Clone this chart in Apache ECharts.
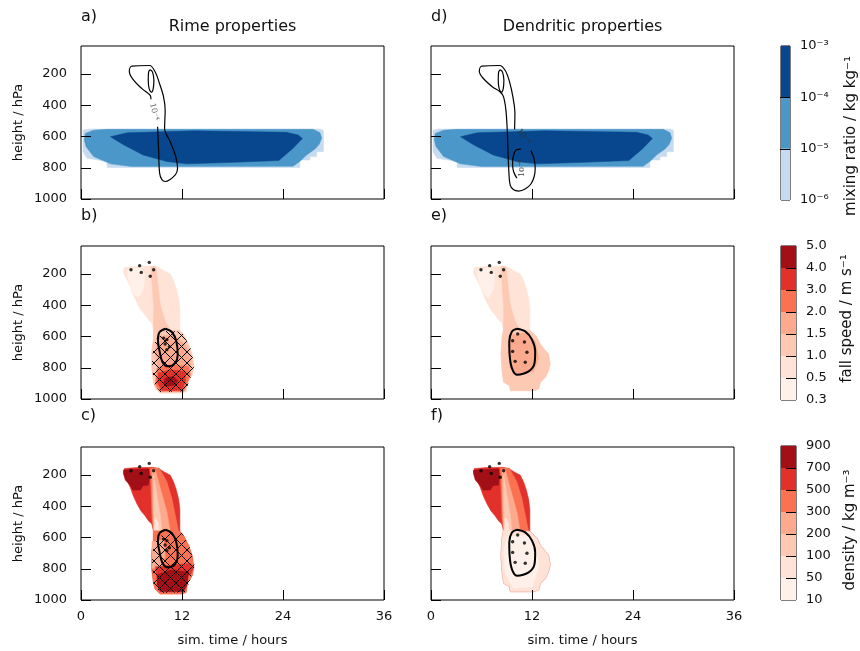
<!DOCTYPE html>
<html><head><meta charset="utf-8">
<script src="https://cdn.jsdelivr.net/npm/echarts@6/dist/echarts.min.js"></script>
<style>html,body{margin:0;padding:0;background:#fff}#c{width:860px;height:651px}</style>
</head><body><div id="c"></div>
<script>
// ---------------- DATA ----------------
const timeTicks = [0, 12, 24, 36];
const pressureTicks = [200, 400, 600, 800, 1000];
const mixLabels = ['10⁻⁶', '10⁻⁵', '10⁻⁴', '10⁻³'];
const fallLabels = ['0.3', '0.5', '1.0', '1.5', '2.0', '3.0', '4.0', '5.0'];
const densLabels = ['10', '50', '100', '200', '300', '500', '700', '900'];
const blueColors = ['#c6dbef', '#4b97c9', '#08478d'];
const redColors = ['#fff0e9', '#fee3d6', '#fdc9b3', '#fcaa8e', '#fb7253', '#e2312a', '#a30f17'];

// filled contour regions, [time h, pressure hPa]
const blueLight = [[0.24,559],[1.0,552],[28.4,552],[28.8,559],[28.8,697],[28.0,697],[28.0,728],[27.2,728],[27.2,750],[26.0,750],[26.0,798],[3.1,798],[3.1,760],[0.7,739],[0.24,697]];
const blueMid = [[0.5,580],[1.5,559],[3,554],[27.6,554],[28.4,575],[28.6,610],[28.3,650],[27.8,680],[26.8,718],[26.0,760],[25.2,790],[6,792],[3.5,775],[1.5,728],[0.6,665],[0.4,622]];
const blueDark = [[3.5,601],[5.5,576],[13.4,563],[24.4,573],[25.8,590],[26.3,612],[25.2,675],[23.5,754],[17.3,767],[12.6,775],[10.2,760],[7.4,718],[5.1,654]];

const plumeBC = [[5.05,178],[5.15,158],[6.5,152],[8.6,150],[9.3,160],[9.9,180],[10.6,200],[11.0,242],[11.3,289],[11.6,353],[11.75,417],[11.75,503],[11.75,560],
  [12.2,588],[12.8,652],[13.2,716],[13.4,791],[13.2,844],[12.6,897],[12.5,951],[12.0,961],[9.4,961],[8.8,929],[8.6,887],[8.4,801],[8.4,695],[8.6,620],[8.6,556],
  [8.4,513],[8.0,492],[7.6,460],[7.1,428],[6.65,385],[6.2,332],[5.85,279],[5.4,230],[5.1,200]];
const plumeEF = [[5.05,178],[5.15,158],[6.5,152],[8.6,150],[9.3,160],[9.9,180],[10.6,200],[11.0,242],[11.3,289],[11.6,353],[11.75,417],[11.75,503],[11.75,560],
  [12.6,605],[13.0,648],[13.6,690],[13.97,712],[14.17,776],[13.97,819],[13.6,861],[13.0,893],[12.8,936],[12.2,947],[9.42,947],[9.34,915],[8.63,893],[8.43,819],[8.31,712],[8.43,605],[8.6,556],
  [8.4,513],[8.0,492],[7.6,460],[7.1,428],[6.65,385],[6.2,332],[5.85,279],[5.4,230],[5.1,200]];
const lowerBlobBC = [[8.6,556],[11.75,560],[12.2,588],[12.8,652],[13.2,716],[13.4,791],[13.2,844],[12.6,897],[12.5,951],[12.0,961],[9.4,961],[8.8,929],[8.6,887],[8.4,801],[8.4,695],[8.6,620]];
const lowerBlobEF = [[8.6,556],[11.75,560],[12.6,605],[13.0,648],[13.6,690],[13.97,712],[14.17,776],[13.97,819],[13.6,861],[13.0,893],[12.8,936],[12.2,947],[9.42,947],[9.34,915],[8.63,893],[8.43,819],[8.31,712],[8.43,605]];

const topLeftWhite = [[5.5,172],[7.0,158],[7.6,204],[7.45,289],[6.85,353],[6.3,332],[5.9,279],[5.5,210]];
const bandB = [[8.3,152],[8.9,152],[9.1,247],[9.42,396],[10.0,503],[10.6,556],[8.63,562],[8.63,417],[8.43,247]];
const lowerC4B = [[9.22,599],[11.0,588],[12.4,652],[13.0,737],[13.0,812],[9.42,833],[9.03,780],[8.83,695]];
const lowerC5B = [[9.03,801],[10.6,780],[12.8,791],[13.0,844],[12.6,908],[12.2,951],[9.42,951],[8.83,908]];
const lowerC6B = [[9.22,833],[10.6,812],[12.4,823],[12.4,887],[12.0,946],[9.62,946],[9.1,897]];
const lowerC7B = [[9.82,897],[10.0,865],[11.0,855],[11.5,882],[11.2,912],[10.2,919]];
const lowerC4E = [[9.41,588],[11.2,578],[12.4,631],[12.8,738],[12.2,823],[10.2,844],[9.41,802],[9.2,695]];

const topLeftDark = [[5.06,168],[8.03,160],[8.15,189],[8.03,264],[7.36,268],[7.05,296],[6.17,296],[5.78,260],[5.26,232],[5.06,189]];
const bandC = [[8.2,155],[9.3,155],[10.2,243],[10.8,349],[11.2,456],[11.6,563],[8.63,563],[8.43,477],[8.31,285]];
const bandC4 = [[8.43,168],[8.83,168],[9.42,285],[10.2,435],[10.6,563],[8.63,573],[8.51,392]];
const bandC3 = [[8.63,200],[8.95,307],[9.42,456],[9.62,563],[8.71,563],[8.63,392]];
const bandC2 = [[8.8,470],[9.15,500],[9.3,560],[8.75,560]];
const lowerC4C = [[8.43,627],[9.82,616],[10.0,712],[9.62,797],[8.43,797]];
const lowerC6C = [[8.83,787],[13.0,765],[13.4,787],[13.0,840],[9.03,850]];
const lowerC7C = [[9.03,840],[10.6,808],[12.8,819],[12.6,904],[12.2,947],[9.42,947],[9.03,904]];
const lowerC1F = [[9.03,595],[11.4,584],[12.6,690],[12.8,797],[12.0,915],[9.82,925],[8.83,840],[8.63,690]];

const hatchBC = [[9.03,609],[10.2,562],[12.0,571],[13.0,673],[13.5,780],[13.0,865],[12.4,951],[9.42,955],[8.63,897],[8.43,759],[8.63,652]];

// contour lines
const contourA = [[9.10,537],[9.22,686],[9.34,834],[9.61,876],[10.0,888],[11.2,845],[11.47,803],[11.2,718],[10.6,633],[9.93,548],[10.0,431],[9.81,346],[9.34,262],[8.82,187],[8.15,145],[6.05,149],[5.74,181],[6.13,230],[7.24,293],[8.23,336],[8.31,361]];
const contourInner = [[8.23,172],[8.5,187],[8.66,240],[8.58,293],[8.39,315],[8.1,293],[7.99,240],[8.03,187],[8.23,172]];
const contourD = [[11.87,690],[12.26,745],[12.38,803],[12.26,856],[11.87,904],[11.19,936],[10.4,949],[9.81,941],[9.41,911],[9.26,834],[9.14,686],[9.06,559],[8.9,431],[8.62,346],[8.23,315],[7.24,279],[6.17,225],[5.74,181],[6.05,149],[8.15,145],[8.82,177],[9.34,251],[9.73,346],[9.97,453],[9.93,554]];
const contourDJ = [[10.68,680],[10.13,686],[9.81,718],[9.69,771],[9.81,824],[10.2,866]];
const ellipseRime = [[10.05,550],[10.8,571],[11.33,631],[11.49,716],[11.2,769],[10.4,791],[9.74,769],[9.34,695],[9.14,620],[9.34,571],[10.05,550]];
const ellipseDend = [[10.2,550],[11.2,567],[12.0,620],[12.38,695],[12.3,770],[11.6,823],[10.2,844],[9.61,802],[9.34,716],[9.3,631],[9.61,567],[10.2,550]];

const labelsA = [[8.7,442,'10⁻⁴']];
const labelsD = [[11.0,601,'10⁻⁶'],[10.8,803,'10⁻⁶']];
const labelRotA = [-76];
const labelRotD = [-55, 90];

// stippled points
const dotsTop = [[5.94,172],[6.97,146],[8.11,125],[8.63,172],[7.16,189],[8.23,214]];
const dotsRime = [[9.81,610],[10.2,620],[10.0,648],[10.5,665],[10.2,684]];
const dotsDend = [[10.3,584],[9.7,627],[11.1,635],[9.7,695],[11.4,701],[10.0,759],[11.2,765]];

// layer lists: [region, colour level]
const layersA = [[blueLight,0],[blueMid,1],[blueDark,2]];
const layersB = [[plumeBC,1],[topLeftWhite,0],[bandB,2],[lowerBlobBC,2],[lowerC4B,3],[lowerC5B,4],[lowerC6B,5],[lowerC7B,6]];
const layersC = [[plumeBC,5],[topLeftDark,6],[bandC,4],[bandC4,3],[bandC3,2],[bandC2,1],[lowerBlobBC,4],[lowerC4C,3],[lowerC6C,5],[lowerC7C,6]];
const layersE = [[plumeEF,1],[topLeftWhite,0],[bandB,2],[lowerBlobEF,2],[lowerC4E,3]];
const layersF = [[plumeEF,5],[topLeftDark,6],[bandC,4],[bandC4,3],[bandC3,2],[bandC2,1],[lowerBlobEF,1],[lowerC1F,0]];

// ---------------- CHART ----------------
const F = 'DejaVu Sans';
const TXT = '#111';
const colsX = [81, 431], rowsY = [46, 246, 447], PW = 303, PH = 153;
const grids = [], xAxes = [], yAxes = [], series = [];

const hatchImg = (() => {
  const s = 11, c = document.createElement('canvas'); c.width = s; c.height = s;
  const g = c.getContext('2d'); g.strokeStyle = '#000'; g.lineWidth = 1;
  g.beginPath(); g.moveTo(-1,-1); g.lineTo(s+1,s+1); g.moveTo(s+1,-1); g.lineTo(-1,s+1); g.stroke();
  return c;
})();

function addPanel(col, row, showX, showY) {
  const gi = grids.length;
  grids.push({left: colsX[col], top: rowsY[row], width: PW, height: PH, show: true,
    borderColor: '#000', borderWidth: 1, backgroundColor: 'transparent', containLabel: false});
  xAxes.push({gridIndex: gi, type: 'value', min: timeTicks[0], max: timeTicks[timeTicks.length-1], interval: 12, zlevel: 1, z: 10,
    axisLine: {show: false}, splitLine: {show: false},
    axisTick: {show: true, inside: true, length: 10, lineStyle: {color: '#000', width: 1}},
    axisLabel: {show: showX, margin: 10, fontFamily: F, fontSize: 13, color: TXT, showMinLabel: true, showMaxLabel: true,
      formatter: v => String(v)},
    name: showX ? 'sim. time / hours' : '', nameLocation: 'middle', nameGap: 34,
    nameTextStyle: {fontFamily: F, fontSize: 13, color: TXT}});
  yAxes.push({gridIndex: gi, type: 'value', inverse: true, min: 20, max: 1000, zlevel: 1, z: 10,
    axisLine: {show: false}, splitLine: {show: false},
    axisTick: {show: true, inside: true, length: 10, customValues: pressureTicks, lineStyle: {color: '#000', width: 1}},
    axisLabel: {show: showY, margin: 14, customValues: pressureTicks, fontFamily: F, fontSize: 13, color: TXT,
      formatter: v => String(v)},
    name: showY ? 'height / hPa' : '', nameLocation: 'middle', nameGap: 56, nameRotate: 90,
    nameTextStyle: {fontFamily: F, fontSize: 13, color: TXT}});
  return gi;
}

function fillSeries(gi, layers, colors) {
  series.push({type: 'custom', xAxisIndex: gi, yAxisIndex: gi, clip: true, silent: true, z: 2,
    data: layers.map((l, i) => [l[0][0][0], l[0][0][1], i]),
    renderItem: (params, api) => {
      const L = layers[params.dataIndex];
      return {type: 'polygon', shape: {points: L[0].map(p => api.coord(p))},
        style: {fill: colors[L[1]], stroke: colors[L[1]], lineWidth: 0.5}};
    }});
}
function hatchSeries(gi, poly) {
  series.push({type: 'custom', xAxisIndex: gi, yAxisIndex: gi, clip: true, silent: true, z: 3,
    data: [[poly[0][0], poly[0][1]]],
    renderItem: (params, api) => ({type: 'polygon', shape: {points: poly.map(p => api.coord(p))},
      style: {fill: {image: hatchImg, repeat: 'repeat'}, stroke: 'none'}})});
}
function lineSeries(gi, pts, w) {
  series.push({type: 'line', xAxisIndex: gi, yAxisIndex: gi, data: pts, showSymbol: false, silent: true,
    smooth: 0.35, z: 4, lineStyle: {color: '#000', width: w}, clip: true});
}
function dotSeries(gi, pts) {
  series.push({type: 'scatter', xAxisIndex: gi, yAxisIndex: gi, data: pts, symbolSize: 3.4, silent: true, z: 5,
    itemStyle: {color: '#000'}});
}
function labelSeries(gi, labs, rots, color) {
  series.push({type: 'custom', xAxisIndex: gi, yAxisIndex: gi, silent: true, z: 6,
    data: labs.map(l => [l[0], l[1]]),
    renderItem: (params, api) => {
      const L = labs[params.dataIndex], c = api.coord([L[0], L[1]]);
      return {type: 'text', x: c[0], y: c[1], rotation: rots[params.dataIndex] * Math.PI / 180,
        style: {text: L[2], fill: color, font: '8px "DejaVu Serif"', align: 'center', verticalAlign: 'middle'}};
    }});
}

// panels a,b,c (left column), d,e,f (right column)
const gA = addPanel(0, 0, false, true);
const gB = addPanel(0, 1, false, true);
const gC = addPanel(0, 2, true, true);
const gD = addPanel(1, 0, false, false);
const gE = addPanel(1, 1, false, false);
const gF = addPanel(1, 2, true, false);

fillSeries(gA, layersA, blueColors);
lineSeries(gA, contourA, 1.2); lineSeries(gA, contourInner, 1.2);
labelSeries(gA, labelsA, labelRotA, '#666');

fillSeries(gD, layersA, blueColors);
lineSeries(gD, contourD, 1.2); lineSeries(gD, contourInner, 1.2); lineSeries(gD, contourDJ, 1.2);
labelSeries(gD, labelsD, labelRotD, '#333');

fillSeries(gB, layersB, redColors); hatchSeries(gB, hatchBC);
lineSeries(gB, ellipseRime, 2); dotSeries(gB, dotsTop); dotSeries(gB, dotsRime);
fillSeries(gC, layersC, redColors); hatchSeries(gC, hatchBC);
lineSeries(gC, ellipseRime, 2); dotSeries(gC, dotsTop); dotSeries(gC, dotsRime);
fillSeries(gE, layersE, redColors);
lineSeries(gE, ellipseDend, 2); dotSeries(gE, dotsTop); dotSeries(gE, dotsDend);
fillSeries(gF, layersF, redColors);
lineSeries(gF, ellipseDend, 2); dotSeries(gF, dotsTop); dotSeries(gF, dotsDend);

// colorbars
function addColorbar(top, colors, labels, name, gap, pad) {
  const gi = grids.length, n = colors.length;
  grids.push({left: 781, top: top, width: 15, height: 154, show: true, borderColor: '#000', borderWidth: 1, backgroundColor: 'transparent'});
  xAxes.push({gridIndex: gi, type: 'value', min: 0, max: 1, show: false});
  yAxes.push({gridIndex: gi, type: 'value', min: 0, max: n, interval: 1, position: 'right', zlevel: 1, z: 10,
    axisLine: {show: false}, splitLine: {show: false},
    axisTick: {show: false},
    axisLabel: {margin: 10, formatter: v => labels[Math.round(v)], fontFamily: F, fontSize: 13, color: TXT, showMinLabel: true, showMaxLabel: true},
    name: name, nameLocation: 'middle', nameGap: gap, nameRotate: 90,
    nameTextStyle: {fontFamily: F, fontSize: 15, color: TXT, padding: pad}});
  series.push({type: 'custom', xAxisIndex: gi, yAxisIndex: gi, silent: true, z: 2,
    data: colors.map((c, i) => [0.5, i + 0.5]),
    renderItem: (params, api) => {
      const i = params.dataIndex, p0 = api.coord([0, i]), p1 = api.coord([1, i + 1]);
      const children = [{type: 'rect', shape: {x: p0[0], y: p1[1], width: p1[0] - p0[0], height: p0[1] - p1[1]},
        style: {fill: colors[i]}}];
      if (i > 0) {
        const y = Math.round(p0[1]) + 0.5;
        children.push({type: 'line', shape: {x1: p1[0] - 10, y1: y, x2: p1[0], y2: y},
          style: {stroke: '#000', lineWidth: 1}, z2: 5});
      }
      return {type: 'group', children: children};
    }});
}
addColorbar(46, blueColors, mixLabels, 'mixing ratio / kg kg⁻¹', 54, [0, 26, 0, 0]);
addColorbar(246, redColors, fallLabels, 'fall speed / m s⁻¹', 44, [0, 0, 0, 9]);
addColorbar(446, redColors, densLabels, 'density / kg m⁻³', 47, [0, 14, 0, 0]);

const texts = [
  ['a)', 81, 17, 'left', 16], ['Rime properties', 232.5, 27, 'center', 16],
  ['d)', 431, 17, 'left', 16], ['Dendritic properties', 582.5, 27, 'center', 16],
  ['b)', 81, 216, 'left', 16], ['e)', 431, 216, 'left', 16],
  ['c)', 81, 416, 'left', 16], ['f)', 431, 416, 'left', 16]
];

const chart = echarts.init(document.getElementById('c'), null, {renderer: 'canvas'});
chart.setOption({
  animation: false,
  backgroundColor: '#fff',
  grid: grids, xAxis: xAxes, yAxis: yAxes, series: series,
  graphic: texts.map(t => ({type: 'text', x: t[1], y: t[2],
    style: {text: t[0], font: t[4] + 'px "DejaVu Sans"', fill: TXT, align: t[3], verticalAlign: 'middle'}}))
});
</script></body></html>
